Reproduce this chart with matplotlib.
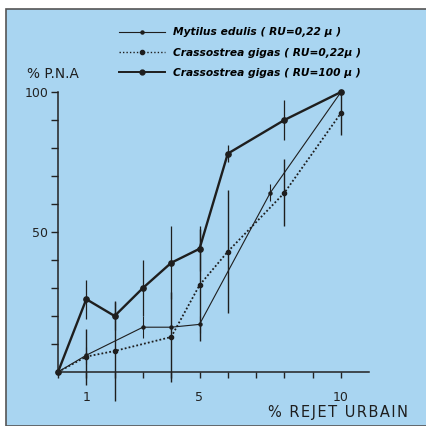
import matplotlib.pyplot as plt
from matplotlib.patches import Rectangle
from matplotlib.lines import Line2D

# % P.N.A versus % rejet urbain
gigas100_x = [0, 1, 2, 3, 4, 5, 6, 8, 10]
gigas100_y = [0, 26, 20, 30, 39, 44, 78, 90, 100]
gigas100_err = [0, 7, 5, 10, 13, 8, 3, 7, 0]

gigas022_x = [0, 1, 2, 4, 5, 6, 8, 10]
gigas022_y = [0, 5.5, 7.5, 12.5, 31, 43, 64, 92.5]
gigas022_err = [0, 10, 18, 16, 20, 22, 12, 8]

mytilus_x = [0, 1, 3, 4, 5, 7.5, 10]
mytilus_y = [0, 6, 16, 16, 17, 64, 100]
mytilus_err = [0, 3, 4, 0, 3, 3, 0]

labels = [
    "Mytilus edulis ( RU=0,22 \u03bc )",
    "Crassostrea gigas ( RU=0,22\u03bc )",
    "Crassostrea gigas ( RU=100 \u03bc )",
]
xtick_labels = {1: "1", 5: "5", 10: "10"}
ytick_labels = {50: "50", 100: "100"}

BG = "#a9d5f1"
W = 426


def spaced(s):
    # the print uses wide letter spacing
    return "\u200a".join(s)


fig = plt.figure(figsize=(4.26, 4.26), dpi=100)
fig.patch.set_facecolor("white")
fig.patches.append(Rectangle((6 / W, 0), 1, 1 - 9 / W, transform=fig.transFigure,
                             facecolor=BG, edgecolor="#555555", linewidth=1.2, zorder=-1))

ax = fig.add_axes([58 / W, 54 / W, 28.3 * 11 / W, 280 / W])
ax.set_facecolor("none")
ax.set_xlim(0, 11)
ax.set_ylim(0, 100)
for s in ["top", "right"]:
    ax.spines[s].set_visible(False)
for s in ["left", "bottom"]:
    ax.spines[s].set_linewidth(1.1)
    ax.spines[s].set_color("#222222")

ax.set_xticks(range(0, 11))
ax.set_xticklabels([xtick_labels.get(i, "") for i in range(0, 11)])
ax.set_yticks(range(10, 101, 10))
ax.set_yticklabels([ytick_labels.get(v, "") for v in range(10, 101, 10)])
ax.tick_params(axis="x", direction="out", length=4, width=1, pad=10, labelsize=9, colors="#222222")
ax.tick_params(axis="y", direction="out", length=5, width=1, pad=2, labelsize=9, colors="#222222")

ink = "#1e1e1e"
ax.errorbar(mytilus_x, mytilus_y, yerr=mytilus_err, color=ink, lw=0.8, marker="o", ms=2.2,
            elinewidth=0.8, capsize=0, clip_on=False)
ax.errorbar(gigas022_x, gigas022_y, yerr=gigas022_err, color=ink, lw=1.3, ls=(0, (1, 1.2)),
            marker="o", ms=3, elinewidth=1.0, capsize=0, clip_on=False)
ax.errorbar(gigas100_x, gigas100_y, yerr=gigas100_err, color=ink, lw=1.7, marker="o", ms=3.8,
            elinewidth=0.9, capsize=0, clip_on=False)

handles = [
    Line2D([], [], color=ink, lw=0.8, marker="o", ms=2.2),
    Line2D([], [], color=ink, lw=1.0, ls=(0, (1, 1.5)), marker="o", ms=3),
    Line2D([], [], color=ink, lw=1.4, marker="o", ms=3.5),
]
fig.legend(handles, labels, loc="upper left", bbox_to_anchor=(114 / W, 1 - 22 / W),
           frameon=False, handlelength=4.3, handletextpad=0.7, labelspacing=0.95,
           borderpad=0, markerfirst=True,
           prop={"family": "DejaVu Sans", "weight": "bold", "style": "italic", "size": 7.7})

fig.text(27 / W, 1 - 74 / W, "% P.N.A", fontsize=9.8, color=ink, va="center", ha="left")
fig.text(408 / W, 1 - 412 / W, spaced("% REJET URBAIN"), fontsize=10.5, color=ink, va="center",
         ha="right", family=["DejaVu Sans"])

fig.savefig("out.png", dpi=100, facecolor=fig.get_facecolor())
